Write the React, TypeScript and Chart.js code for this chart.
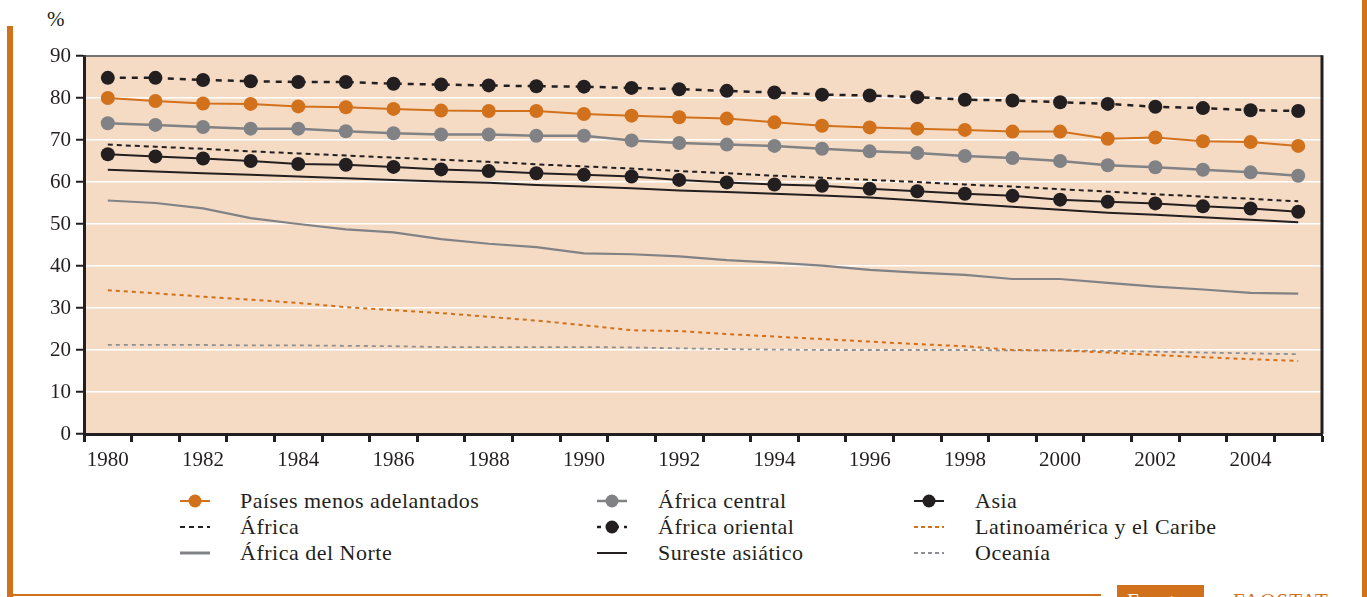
import React, { useEffect, useRef } from 'react';
import { Chart, registerables } from 'chart.js';

Chart.register(...registerables);

// ---------- DATA ----------
const years = [
  '1980', '1981', '1982', '1983', '1984', '1985', '1986', '1987', '1988', '1989',
  '1990', '1991', '1992', '1993', '1994', '1995', '1996', '1997', '1998', '1999',
  '2000', '2001', '2002', '2003', '2004', '2005',
];

const paisesMenosAdelantados = [
  80.0, 79.3, 78.7, 78.6, 78.0, 77.8, 77.4, 77.0, 76.9, 76.9,
  76.2, 75.8, 75.4, 75.1, 74.2, 73.4, 73.0, 72.7, 72.4, 72.0,
  72.0, 70.3, 70.6, 69.7, 69.5, 68.6,
];
const africaCentral = [
  74.0, 73.6, 73.1, 72.7, 72.7, 72.1, 71.6, 71.3, 71.3, 71.0,
  71.0, 69.9, 69.3, 68.9, 68.6, 67.9, 67.3, 66.9, 66.2, 65.7,
  65.0, 64.0, 63.5, 62.9, 62.3, 61.5,
];
const asia = [
  66.6, 66.1, 65.6, 65.0, 64.3, 64.1, 63.6, 63.0, 62.6, 62.1,
  61.7, 61.3, 60.5, 59.9, 59.4, 59.1, 58.4, 57.8, 57.2, 56.7,
  55.8, 55.3, 54.9, 54.2, 53.7, 52.9,
];
const africa = [
  68.9, 68.4, 67.9, 67.3, 66.8, 66.3, 65.8, 65.3, 64.8, 64.2,
  63.7, 63.2, 62.6, 62.1, 61.5, 61.0, 60.5, 60.0, 59.4, 58.9,
  58.3, 57.7, 57.1, 56.5, 56.0, 55.4,
];
const africaOriental = [
  84.8, 84.8, 84.3, 84.0, 83.8, 83.8, 83.4, 83.2, 83.0, 82.8,
  82.7, 82.4, 82.1, 81.7, 81.3, 80.8, 80.6, 80.2, 79.6, 79.4,
  79.0, 78.6, 77.9, 77.6, 77.1, 76.9,
];
const latinoamericaCaribe = [
  34.2, 33.5, 32.7, 32.0, 31.2, 30.2, 29.5, 28.8, 27.9, 27.0,
  25.9, 24.7, 24.5, 23.8, 23.2, 22.6, 22.0, 21.4, 20.9, 20.0,
  19.9, 19.4, 18.8, 18.3, 17.8, 17.4,
];
const africaDelNorte = [
  55.6, 55.0, 53.7, 51.4, 50.0, 48.7, 48.0, 46.4, 45.3, 44.5,
  43.0, 42.8, 42.3, 41.4, 40.8, 40.1, 39.1, 38.4, 37.9, 36.9,
  36.9, 36.0, 35.1, 34.4, 33.6, 33.4,
];
const suresteAsiatico = [
  62.9, 62.5, 62.1, 61.7, 61.3, 60.9, 60.5, 60.1, 59.8, 59.3,
  58.9, 58.5, 58.0, 57.6, 57.2, 56.8, 56.3, 55.6, 54.8, 54.1,
  53.4, 52.7, 52.2, 51.6, 51.0, 50.4,
];
const oceania = [
  21.2, 21.2, 21.2, 21.1, 21.1, 21.0, 20.9, 20.7, 20.7, 20.7,
  20.7, 20.6, 20.4, 20.2, 20.1, 20.0, 20.0, 20.0, 20.0, 19.9,
  19.9, 19.8, 19.6, 19.4, 19.2, 19.0,
];

const yMin = 0;
const yMax = 90;
const yStep = 10;

// ---------- STYLE ----------
const ORANGE = '#D2711C';
const GRAY = '#818285';
const BLACK = '#231F20';
const BG = '#F5DBC4';
const FONT = '"Liberation Serif", "Times New Roman", serif';

const CANVAS_W = 1367;
const CANVAS_H = 480;

const framePlugin = {
  id: 'frame',
  beforeDraw(chart: any) {
    const { ctx, chartArea } = chart;
    const { left, top, right, bottom } = chartArea;
    ctx.save();
    ctx.fillStyle = BG;
    ctx.fillRect(left, top, right - left, bottom - top);
    ctx.restore();
  },
  afterDraw(chart: any) {
    const { ctx, chartArea } = chart;
    const { left, top, right, bottom } = chartArea;
    ctx.save();
    ctx.strokeStyle = '#4A4748';
    ctx.lineWidth = 1.5;
    ctx.beginPath();
    ctx.moveTo(left, top);
    ctx.lineTo(right, top);
    ctx.stroke();
    ctx.strokeStyle = BLACK;
    ctx.lineWidth = 3;
    ctx.beginPath();
    ctx.moveTo(right, top - 0.75);
    ctx.lineTo(right, bottom);
    ctx.stroke();
    ctx.restore();
  },
};

type LegendKind = { label: string; color: string; dash?: string; width: number; dot?: boolean };

const legendCols: LegendKind[][] = [
  [
    { label: 'Países menos adelantados', color: ORANGE, width: 2, dot: true },
    { label: 'África', color: BLACK, width: 2, dash: '5 4' },
    { label: 'África del Norte', color: GRAY, width: 3 },
  ],
  [
    { label: 'África central', color: GRAY, width: 2.5, dot: true },
    { label: 'África oriental', color: BLACK, width: 2.5, dash: '4 5', dot: true },
    { label: 'Sureste asiático', color: BLACK, width: 2 },
  ],
  [
    { label: 'Asia', color: BLACK, width: 2, dot: true },
    { label: 'Latinoamérica y el Caribe', color: ORANGE, width: 1.8, dash: '4 3' },
    { label: 'Oceanía', color: '#8E8F92', width: 1.8, dash: '4 3' },
  ],
];
const legendColX = [180, 597, 914];
const legendTextX = [240, 658, 975];
const legendRowY = [501, 527, 553];

function LegendSymbol({ item }: { item: LegendKind }) {
  return (
    <svg width={32} height={16} style={{ display: 'block' }}>
      <line
        x1={1}
        y1={8}
        x2={31}
        y2={8}
        stroke={item.color}
        strokeWidth={item.width}
        strokeDasharray={item.dash}
      />
      {item.dot ? <circle cx={16} cy={8} r={6.5} fill={item.color} /> : null}
    </svg>
  );
}

export default function App() {
  const canvasRef = useRef<HTMLCanvasElement | null>(null);

  useEffect(() => {
    document.body.style.margin = '0';
    const canvas = canvasRef.current;
    if (!canvas) return;

    const lineDs = (
      label: string,
      data: number[],
      color: string,
      width: number,
      dash: number[] | undefined,
      dot: boolean
    ) => ({
      label,
      data,
      borderColor: color,
      backgroundColor: color,
      borderWidth: width,
      borderDash: dash || [],
      pointRadius: dot ? 7 : 0,
      pointHoverRadius: dot ? 7 : 0,
      pointBackgroundColor: color,
      pointBorderWidth: 0,
      tension: 0,
      fill: false,
    });

    const chart = new Chart(canvas, {
      type: 'line',
      data: {
        labels: years,
        datasets: [
          lineDs('Países menos adelantados', paisesMenosAdelantados, ORANGE, 2, undefined, true),
          lineDs('África central', africaCentral, GRAY, 2.5, undefined, true),
          lineDs('Asia', asia, BLACK, 2, undefined, true),
          lineDs('África', africa, BLACK, 2, [5, 4], false),
          lineDs('África oriental', africaOriental, BLACK, 2.5, [6, 6], true),
          lineDs('Latinoamérica y el Caribe', latinoamericaCaribe, ORANGE, 2, [4, 4], false),
          lineDs('África del Norte', africaDelNorte, GRAY, 2.2, undefined, false),
          lineDs('Sureste asiático', suresteAsiatico, BLACK, 2, undefined, false),
          lineDs('Oceanía', oceania, '#8E8F92', 1.8, [4, 4], false),
        ],
      },
      options: {
        responsive: false,
        animation: false,
        devicePixelRatio: 1,
        layout: { padding: { top: 56, right: CANVAS_W - 1322, left: 0, bottom: 0 } },
        plugins: {
          legend: { display: false },
          tooltip: { enabled: false },
          title: { display: false },
        },
        scales: {
          x: {
            type: 'category',
            offset: true,
            afterFit(scale: any) {
              scale.height = CANVAS_H - 434;
            },
            grid: {
              offset: true,
              drawOnChartArea: false,
              drawTicks: true,
              tickLength: 8,
              tickWidth: 3,
              tickColor: BLACK,
            },
            border: { display: true, color: BLACK, width: 3 },
            ticks: {
              autoSkip: false,
              maxRotation: 0,
              minRotation: 0,
              padding: 6,
              color: BLACK,
              font: { family: FONT, size: 21 },
              callback: (_v: any, i: number) => (i % 2 === 0 ? years[i] : ''),
            },
          },
          y: {
            min: yMin,
            max: yMax,
            afterFit(scale: any) {
              scale.width = 84;
            },
            grid: {
              color: '#FFFFFF',
              lineWidth: 1.5,
              drawTicks: true,
              tickLength: 8,
              tickWidth: 2,
              tickColor: BLACK,
            },
            border: { display: true, color: BLACK, width: 3 },
            ticks: {
              stepSize: yStep,
              padding: 5,
              color: BLACK,
              font: { family: FONT, size: 21 },
            },
          },
        },
      },
      plugins: [framePlugin],
    } as any);

    return () => {
      chart.destroy();
    };
  }, []);

  return (
    <div
      style={{
        position: 'relative',
        width: 1367,
        height: 597,
        overflow: 'hidden',
        background: '#FFFFFF',
        fontFamily: FONT,
        color: BLACK,
      }}
    >
      {/* orange frame */}
      <div style={{ position: 'absolute', left: 7, top: 26, width: 6, height: 571, background: ORANGE }} />
      <div style={{ position: 'absolute', left: 7, top: 594, width: 1094, height: 2, background: ORANGE }} />
      <div style={{ position: 'absolute', left: 1362, top: 0, width: 5, height: 597, background: ORANGE }} />

      <div style={{ position: 'absolute', left: 47, top: 6, fontSize: 21, lineHeight: '26px' }}>%</div>

      <canvas
        ref={canvasRef}
        width={CANVAS_W}
        height={CANVAS_H}
        style={{ position: 'absolute', left: 0, top: 0, width: CANVAS_W, height: CANVAS_H }}
      />

      {legendCols.map((col, ci) =>
        col.map((item, ri) => (
          <React.Fragment key={item.label}>
            <div style={{ position: 'absolute', left: legendColX[ci] - 1, top: legendRowY[ri] - 8 }}>
              <LegendSymbol item={item} />
            </div>
            <div
              style={{
                position: 'absolute',
                left: legendTextX[ci],
                top: legendRowY[ri] - 13,
                fontSize: 22,
                lineHeight: '26px',
                letterSpacing: '0.5px',
                whiteSpace: 'nowrap',
              }}
            >
              {item.label}
            </div>
          </React.Fragment>
        ))
      )}

      {/* source */}
      <div
        style={{
          position: 'absolute',
          left: 1117,
          top: 585,
          width: 87,
          height: 12,
          background: ORANGE,
          overflow: 'hidden',
        }}
      >
        <div style={{ position: 'absolute', left: 10, top: 3, fontSize: 21, lineHeight: '26px', color: '#FFFFFF' }}>
          Fuente
        </div>
      </div>
      <div style={{ position: 'absolute', left: 1233, top: 588, height: 9, overflow: 'hidden', width: 100 }}>
        <div style={{ position: 'absolute', left: 0, top: 0, fontSize: 21, lineHeight: '26px', color: ORANGE, letterSpacing: '1px' }}>
          FAOSTAT
        </div>
      </div>
    </div>
  );
}
